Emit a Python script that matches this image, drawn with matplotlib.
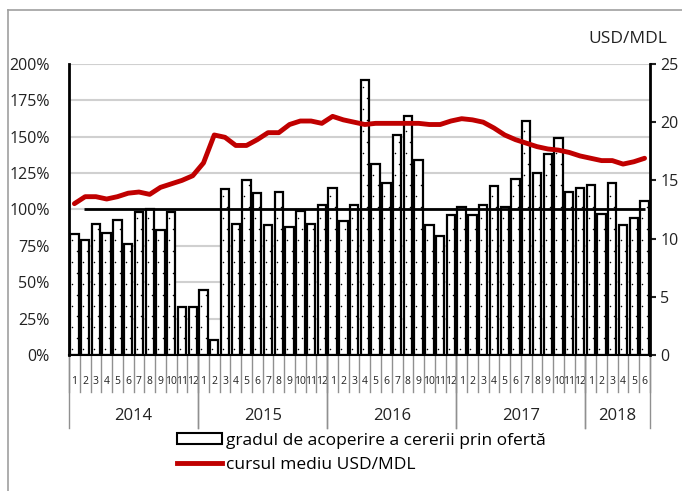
import matplotlib.pyplot as plt
from matplotlib.lines import Line2D
from matplotlib.patches import Patch
import matplotlib.transforms as mtransforms

plt.rcParams['font.family'] = ['Open Sans', 'DejaVu Sans']

years = ['2014', '2015', '2016', '2017', '2018']
months_per_year = [12, 12, 12, 12, 6]
month_labels = [str(m) for n in months_per_year for m in range(1, n + 1)]

# gradul de acoperire a cererii prin oferta (%)
coverage = [83, 79, 90, 84, 93, 76, 98, 100, 86, 98, 33, 33,
            45, 10, 114, 90, 120, 111, 89, 112, 88, 99, 90, 103,
            115, 92, 103, 189, 131, 118, 151, 164, 134, 89, 82, 96,
            102, 96, 103, 116, 102, 121, 161, 125, 138, 149, 112, 115,
            117, 97, 118, 89, 94, 106]

# cursul mediu USD/MDL
rate = [13.0, 13.6, 13.6, 13.4, 13.6, 13.9, 14.0, 13.8, 14.4, 14.7, 15.0, 15.4,
        16.5, 18.9, 18.7, 18.0, 18.0, 18.5, 19.1, 19.1, 19.8, 20.1, 20.1, 19.9,
        20.5, 20.2, 20.0, 19.8, 19.9, 19.9, 19.9, 19.9, 19.9, 19.8, 19.8, 20.1,
        20.3, 20.2, 20.0, 19.5, 18.9, 18.5, 18.2, 17.9, 17.7, 17.6, 17.4, 17.1,
        16.9, 16.7, 16.7, 16.4, 16.6, 16.9]

x = list(range(len(coverage)))

fig = plt.figure(figsize=(6.82, 4.91), dpi=100)
ax = fig.add_axes([0.1012, 0.277, 0.8518, 0.5927])
ax2 = ax.twinx()

ax.bar(x, coverage, width=0.78, color='white', edgecolor='black',
       linewidth=1.6, zorder=2)

# sparse dot pattern inside the bars
dx, dy = [], []
for i, h in zip(x, coverage):
    k = 0
    y = 4
    while y < h - 3:
        dx.append(i + (-0.2 if k % 2 == 0 else 0.2))
        dy.append(y)
        y += 7.5
        k += 1
ax.scatter(dx, dy, s=1.2, color='black', linewidths=0, zorder=2.5)

ax.hlines(100, 0.9, len(x) - 1, color='black', linewidth=2, zorder=3)
ax2.plot(x, rate, color='#c00000', linewidth=3.5, solid_capstyle='round')

ax.set_xlim(-0.5, len(x) - 0.5)
ax.set_ylim(0, 200)
ax.set_yticks(range(0, 201, 25))
ax.set_yticklabels([f'{v}%' for v in range(0, 201, 25)], fontsize=11.5, color='#222222')
ax.grid(axis='y', color='#d0d0d0', linewidth=1.5, zorder=0)
ax.set_axisbelow(True)
ax.tick_params(axis='y', length=0, pad=14)

ax2.set_ylim(0, 25)
ax2.set_yticks(range(0, 26, 5))
ax2.tick_params(axis='y', labelsize=11.5, colors='#222222', direction='out', length=4, width=1.5)
ax2.text(1.03, 1.06, 'USD/MDL', transform=ax2.transAxes, ha='right', va='bottom',
         fontsize=12.5, color='#222222')

for a in (ax, ax2):
    a.spines['top'].set_visible(False)
ax.spines['right'].set_visible(False)
ax.spines['left'].set_linewidth(2)
ax2.spines['left'].set_visible(False)
ax2.spines['right'].set_linewidth(2)
ax.spines['bottom'].set_linewidth(1.5)
ax2.spines['bottom'].set_visible(False)

# two level x axis
ax.set_xticks(x)
ax.set_xticklabels(month_labels, fontsize=7.5, color='#222222')
ax.tick_params(axis='x', length=0, pad=15)
trans = mtransforms.blended_transform_factory(ax.transData, ax.transAxes)
for i in range(len(x) + 1):
    ax.add_line(Line2D([i - 0.5, i - 0.5], [0, -0.127], transform=trans,
                       color='#909090', linewidth=1, clip_on=False))
start = 0
for yr, n in zip(years, months_per_year):
    for b in (start, start + n):
        ax.add_line(Line2D([b - 0.5, b - 0.5], [0, -0.25], transform=trans,
                           color='#909090', linewidth=1, clip_on=False))
    ax.text(start + n / 2 - 0.5, -0.21, yr, transform=trans, ha='center',
            va='center', fontsize=12, color='#222222')
    start += n

handles = [Patch(facecolor='white', edgecolor='black', linewidth=1.5),
           Line2D([], [], color='#c00000', linewidth=3.5)]
fig.legend(handles, ['gradul de acoperire a cererii prin ofertă', 'cursul mediu USD/MDL'],
           loc='upper left', bbox_to_anchor=(0.26, 0.118), frameon=False, fontsize=12.5,
           handlelength=2.6, handleheight=0.6, handletextpad=0.2, labelspacing=0.45,
           borderpad=0, borderaxespad=0)

# frame lines of the original figure
fig.add_artist(Line2D([0.012, 0.012], [0, 0.98], color='#a0a0a0', linewidth=1.2))
fig.add_artist(Line2D([0.012, 1], [0.98, 0.98], color='#a0a0a0', linewidth=1.2))

fig.savefig('out.png', dpi=100)
